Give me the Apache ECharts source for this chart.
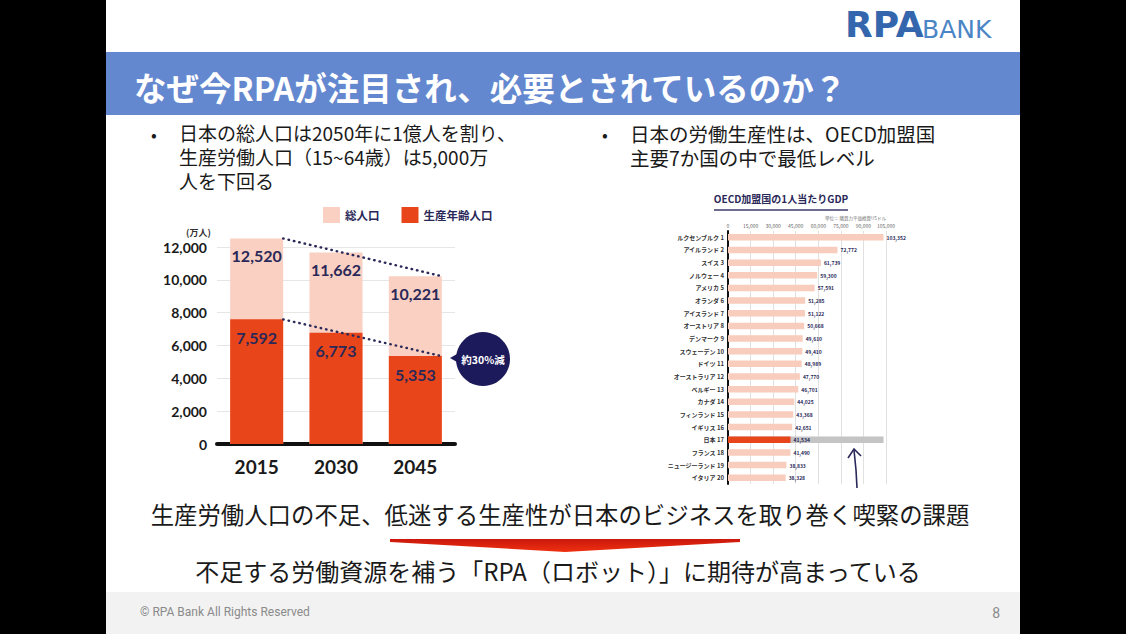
<!DOCTYPE html>
<html><head><meta charset="utf-8">
<script src="https://cdn.jsdelivr.net/npm/echarts@6/dist/echarts.min.js"></script>
<style>html,body{margin:0;padding:0;background:#000}#c{width:1126px;height:634px}</style>
</head><body><div id="c"></div>
<script>
// ---- Left chart data ----
const years = ['2015', '2030', '2045'];
const totalPop = [12520, 11662, 10221];
const workingPop = [7592, 6773, 5353];
const popAxisMax = 12000;
const popAxisStep = 2000;

// ---- OECD chart data ----
const countries = ['ルクセンブルク','アイルランド','スイス','ノルウェー','アメリカ','オランダ','アイスランド','オーストリア','デンマーク','スウェーデン','ドイツ','オーストラリア','ベルギー','カナダ','フィンランド','イギリス','日本','フランス','ニュージーランド','イタリア'];
const ranks = [1,2,3,4,5,6,7,8,9,10,11,12,13,14,15,16,17,18,19,20];
const gdp = [103352,72772,61739,59300,57591,51285,51122,50668,49610,49410,48989,47770,46701,44025,43368,42651,41534,41490,38833,38328];
const japanName = '日本';
const gdpAxisMax = 105000;
const gdpAxisStep = 15000;

const fmt = v => Number(v).toLocaleString('en-US');
const JP = '"Noto Sans CJK JP", sans-serif';
const NAVY = '#2a2858';

const chart = echarts.init(document.getElementById('c'), null, {renderer: 'svg'});

const gridL = {left: 217, top: 247, width: 238, height: 197};
const barW = 53;
const edge = 0.5 + (barW / 2) / (gridL.width / years.length);
const japanIdx = countries.indexOf(japanName);

const gdpLabels = countries.map((c, i) => c + ' ' + ranks[i]);

const option = {
  backgroundColor: '#000',
  animation: false,
  textStyle: {fontFamily: JP},
  legend: {
    data: ['総人口', '生産年齢人口'],
    left: 323, top: 207, padding: 0, icon: 'rect', itemWidth: 17, itemHeight: 16, itemGap: 22,
    textStyle: {fontFamily: JP, fontWeight: 'bold', fontSize: 11.5, color: NAVY}
  },
  grid: [
    gridL,
    {left: 728, top: 231, width: 158, height: 253}
  ],
  xAxis: [
    {type: 'category', gridIndex: 0, data: years,
     axisLine: {lineStyle: {color: '#111', width: 4}}, axisTick: {show: false},
     axisLabel: {fontFamily: 'Lato', fontWeight: 'bold', fontSize: 19, color: '#1a1a1a', margin: 13}},
    {type: 'value', gridIndex: 0, min: 0, max: years.length, show: false},
    {type: 'value', gridIndex: 1, min: 0, max: gdpAxisMax, interval: gdpAxisStep, position: 'top',
     axisLine: {show: false}, axisTick: {show: false},
     axisLabel: {fontSize: 5, color: '#666', margin: 3, formatter: fmt},
     splitLine: {lineStyle: {color: '#e0e0e0', width: 1}}}
  ],
  yAxis: [
    {type: 'value', gridIndex: 0, min: 0, max: popAxisMax, interval: popAxisStep,
     axisLine: {show: false}, axisTick: {show: false},
     axisLabel: {fontFamily: 'Lato', fontWeight: 'bold', fontSize: 14, color: '#1a1a1a', margin: 10, formatter: fmt},
     splitLine: {lineStyle: {color: '#e6e6e6'}}},
    {type: 'category', gridIndex: 1, data: gdpLabels, inverse: true,
     axisLine: {lineStyle: {color: '#111', width: 2}}, axisTick: {show: false},
     axisLabel: {fontSize: 6, fontWeight: 'bold', color: '#333', margin: 4}}
  ],
  series: [
    {name: '総人口', type: 'bar', xAxisIndex: 0, yAxisIndex: 0, data: totalPop, barWidth: barW, barGap: '-100%', clip: false,
     itemStyle: {color: '#f9d0c2'},
     label: {show: true, position: 'insideTop', distance: 9, fontFamily: 'Lato', fontWeight: 'bold', fontSize: 16, color: NAVY, formatter: p => fmt(p.value)}},
    {name: '生産年齢人口', type: 'bar', xAxisIndex: 0, yAxisIndex: 0, data: workingPop, barWidth: barW, barGap: '-100%',
     itemStyle: {color: '#e8461a'},
     label: {show: true, position: 'insideTop', distance: 10, fontFamily: 'Lato', fontWeight: 'bold', fontSize: 16, color: NAVY, formatter: p => fmt(p.value)}},
    {name: 'totalTrend', type: 'line', xAxisIndex: 1, yAxisIndex: 0, symbol: 'none', silent: true, z: 5, clip: false,
     data: [[edge, totalPop[0]], [years.length - 1 + edge, totalPop[totalPop.length - 1]]],
     lineStyle: {type: [0.5, 5], width: 2.4, color: NAVY, cap: 'round'}},
    {name: 'workTrend', type: 'line', xAxisIndex: 1, yAxisIndex: 0, symbol: 'none', silent: true, z: 5, clip: false,
     data: [[edge, workingPop[0]], [years.length - 1 + edge, workingPop[workingPop.length - 1]]],
     lineStyle: {type: [0.5, 5], width: 2.4, color: NAVY, cap: 'round'}},
    {name: 'gdpBg', type: 'bar', xAxisIndex: 2, yAxisIndex: 1, barWidth: 6.5, barGap: '-100%',
     data: gdp.map((v, i) => i === japanIdx ? gdp[0] : '-'),
     itemStyle: {color: '#c4c4c4'}},
    {name: 'gdp', type: 'bar', xAxisIndex: 2, yAxisIndex: 1, barWidth: 6.5, barGap: '-100%',
     data: gdp.map((v, i) => ({value: v, itemStyle: {color: i === japanIdx ? '#e8461a' : '#f8cdbd'}})),
     label: {show: true, position: 'right', distance: 3, fontSize: 5, fontWeight: 'bold', color: NAVY, formatter: p => fmt(p.value)}}
  ],
  graphic: [
    // slide background
    {type: 'rect', z: -10, shape: {x: 106, y: 0, width: 914, height: 634}, style: {fill: '#fff'}},
    {type: 'rect', z: -9, shape: {x: 106, y: 52, width: 914, height: 63}, style: {fill: '#6488cf'}},
    {type: 'rect', z: -9, shape: {x: 106, y: 592, width: 914, height: 42}, style: {fill: '#f2f2f2'}},
    // logo
    {type: 'text', z: 10, x: 845, y: 6, style: {text: 'RPA', fontFamily: '"DejaVu Sans"', fontWeight: 'bold', fontSize: 36, fill: '#3466ad'}},
    {type: 'text', z: 10, x: 922, y: 17, style: {text: 'BANK', fontFamily: '"DejaVu Sans"', fontSize: 25, fill: '#4a86c6'}},
    // title
    {type: 'text', z: 10, x: 134, y: 86, style: {text: 'なぜ今RPAが注目され、必要とされているのか？', fontFamily: JP, fontWeight: 'bold', fontSize: 32.5, fill: '#fff', verticalAlign: 'middle'}},
    // bullets left
    {type: 'text', z: 10, x: 151, y: 133, style: {text: '•', fontFamily: JP, fontSize: 17, fill: '#1a1a1a', verticalAlign: 'middle'}},
    {type: 'text', z: 10, x: 179, y: 121, style: {text: '日本の総人口は2050年に1億人を割り、\n生産労働人口（15~64歳）は5,000万\n人を下回る', fontFamily: JP, fontSize: 19, lineHeight: 23.7, fill: '#1a1a1a', verticalAlign: 'top'}},
    // bullets right
    {type: 'text', z: 10, x: 602, y: 133, style: {text: '•', fontFamily: JP, fontSize: 17, fill: '#1a1a1a', verticalAlign: 'middle'}},
    {type: 'text', z: 10, x: 630, y: 121, style: {text: '日本の労働生産性は、OECD加盟国\n主要7か国の中で最低レベル', fontFamily: JP, fontSize: 19.5, lineHeight: 24, fill: '#1a1a1a', verticalAlign: 'top'}},
    // left chart unit
    {type: 'text', z: 10, x: 186, y: 232, style: {text: '(万人)', fontFamily: JP, fontSize: 9, fontWeight: 'bold', fill: '#333', verticalAlign: 'middle'}},
    // bubble
    {type: 'polygon', z: 10, shape: {points: [[450, 358], [464, 350], [464, 366]]}, style: {fill: '#1c1a5a'}},
    {type: 'circle', z: 10, shape: {cx: 483, cy: 359, r: 27}, style: {fill: '#1c1a5a'}},
    {type: 'text', z: 11, x: 483, y: 359, style: {text: '約30%減', fontFamily: JP, fontWeight: 'bold', fontSize: 10.5, fill: '#fff', align: 'center', verticalAlign: 'middle'}},
    // OECD title
    {type: 'text', z: 10, x: 781, y: 198, style: {text: 'OECD加盟国の1人当たりGDP', fontFamily: JP, fontWeight: 'bold', fontSize: 10, fill: NAVY, align: 'center', verticalAlign: 'middle'}},
    {type: 'line', z: 10, shape: {x1: 714, y1: 210, x2: 848, y2: 210}, style: {stroke: '#3d3a6a', lineWidth: 1.5}},
    {type: 'text', z: 10, x: 886, y: 218, style: {text: '単位＝ 購買力平価換算USドル', fontFamily: JP, fontSize: 4.5, fill: '#777', align: 'right', verticalAlign: 'middle'}},
    // hand-drawn arrow
    {type: 'polyline', z: 10, shape: {points: [[857, 488], [856, 470], [854, 450]]}, style: {stroke: '#2a2858', lineWidth: 1.6, fill: null}},
    {type: 'polyline', z: 10, shape: {points: [[848, 458], [854, 449], [861, 456]]}, style: {stroke: '#2a2858', lineWidth: 1.6, fill: null}},
    // bottom messages
    {type: 'text', z: 10, x: 560, y: 514, style: {text: '生産労働人口の不足、低迷する生産性が日本のビジネスを取り巻く喫緊の課題', fontFamily: JP, fontSize: 23.4, fill: '#1a1a1a', align: 'center', verticalAlign: 'middle'}},
    {type: 'polygon', z: 10, shape: {points: [[390, 539], [740, 539], [740, 542], [565, 552], [390, 542]]},
     style: {fill: {type: 'linear', x: 0, y: 0, x2: 0, y2: 1, colorStops: [{offset: 0, color: '#c9180c'}, {offset: 1, color: '#f03010'}]}}},
    {type: 'text', z: 10, x: 558, y: 570, style: {text: '不足する労働資源を補う「RPA（ロボット）」に期待が高まっている', fontFamily: JP, fontSize: 24, fill: '#1a1a1a', align: 'center', verticalAlign: 'middle'}},
    // footer
    {type: 'text', z: 10, x: 140, y: 612, style: {text: '© RPA Bank All Rights Reserved', fontFamily: 'Roboto', fontSize: 12, fill: '#8a8a8a', verticalAlign: 'middle'}},
    {type: 'text', z: 10, x: 1000, y: 613, style: {text: '8', fontFamily: 'Roboto', fontSize: 14, fill: '#8a8a8a', align: 'right', verticalAlign: 'middle'}}
  ]
};
chart.setOption(option);
</script></body></html>
